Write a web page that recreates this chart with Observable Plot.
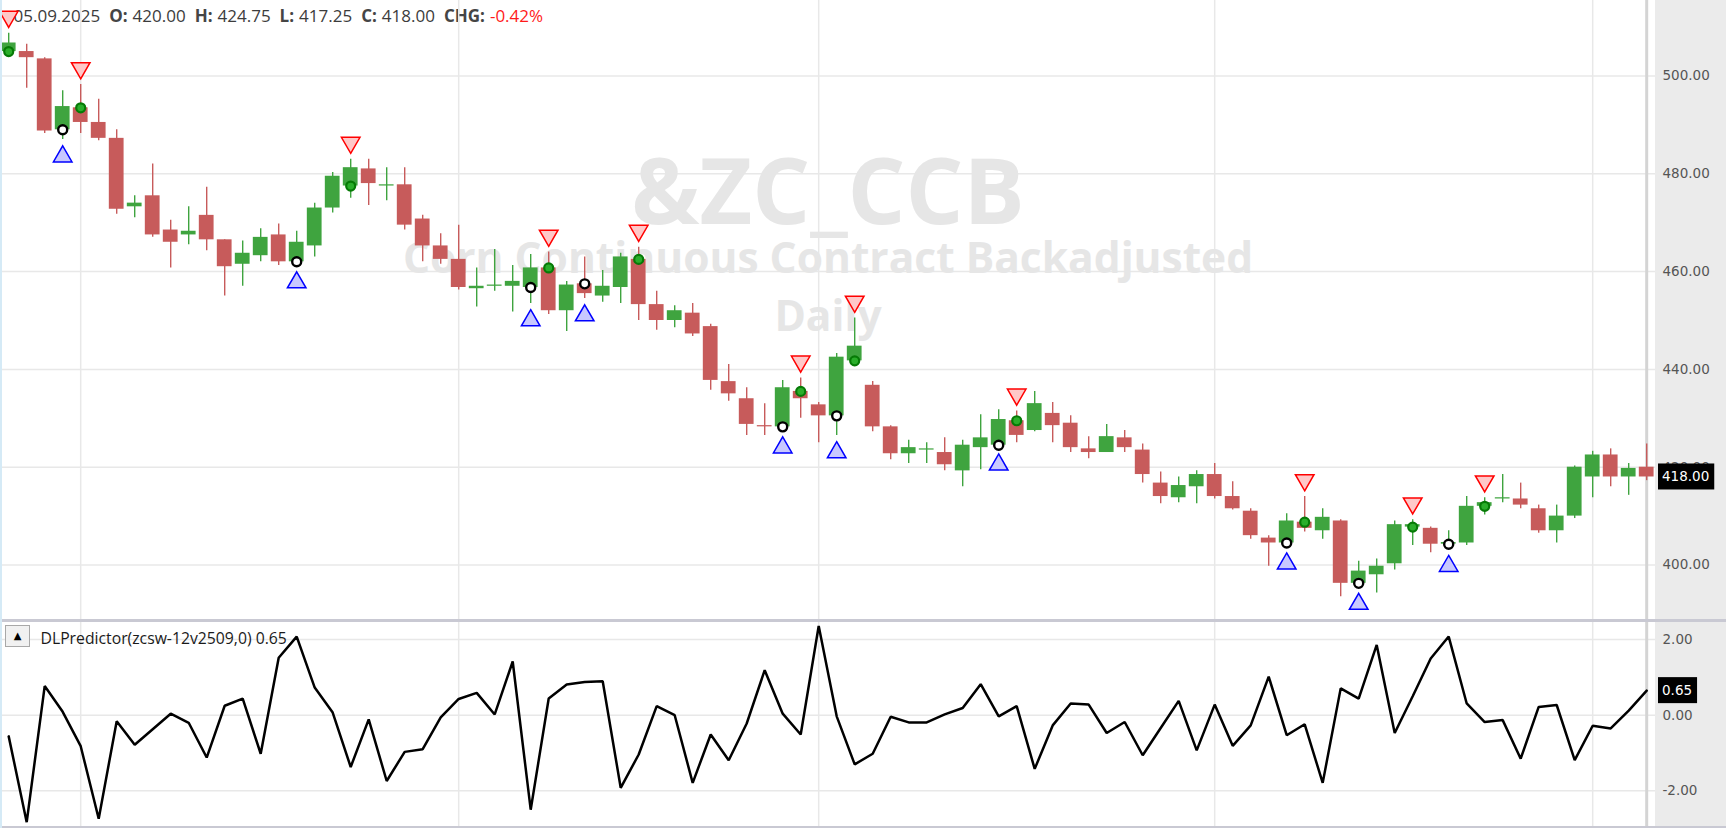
<!DOCTYPE html>
<html><head><meta charset="utf-8">
<script src="https://cdn.jsdelivr.net/npm/d3@7"></script>
<script src="https://cdn.jsdelivr.net/npm/@observablehq/plot@0.6"></script>
<style>
html,body{margin:0;padding:0;background:#fff;}
#wrap{position:relative;width:1726px;height:828px;overflow:hidden;background:#fff;}
#wrap svg{position:absolute;left:0;max-width:none;}
.sep{position:absolute;left:0;width:1726px;background:#c9c9d3;}
#leftbar{position:absolute;left:0;top:0;width:2px;height:828px;background:#d5eaf6;}
#btn{position:absolute;left:5px;top:625px;width:23px;height:20px;border:1px solid #a8a8a8;background:#f1f1f1;font:10px 'DejaVu Sans';text-align:center;line-height:20px;color:#000;}
</style></head><body><div id="wrap"></div>
<script>
// ---- data ----
const opens  = [505.0,505.0,503.5,489.0,493.5,490.5,487.25,473.25,475.5,468.5,467.5,471.5,466.5,461.5,463.25,467.5,462.0,465.25,473.0,477.5,481.0,477.5,477.75,470.75,465.25,462.5,456.5,457.0,457.0,456.75,460.75,452.0,457.5,455.0,456.75,462.5,453.25,450.0,451.5,448.75,437.5,434.0,428.5,428.25,435.5,432.75,430.5,441.75,436.75,428.25,422.75,423.5,423.0,419.25,424.0,424.5,429.5,427.5,431.0,429.0,423.75,423.0,426.0,423.5,416.75,413.75,416.0,418.5,414.0,411.0,405.5,404.5,408.75,407.0,409.0,396.25,398.0,400.25,407.75,407.5,404.25,404.5,412.0,413.5,413.5,411.5,407.0,410.0,418.0,422.5,418.0,420.0];
const highs  = [508.75,506.5,503.75,497.0,498.25,495.25,489.0,475.5,482.0,470.5,473.25,477.25,466.5,466.25,468.75,469.75,468.25,474.0,480.25,483.0,483.0,481.25,481.25,471.5,467.75,469.5,460.75,464.5,461.25,463.5,464.0,458.0,463.0,460.25,463.75,465.0,456.0,453.0,453.5,449.25,441.0,436.25,433.0,437.75,438.25,433.25,443.25,450.5,437.5,428.5,425.5,425.0,426.0,425.5,430.75,431.75,431.5,435.5,433.25,430.5,426.25,428.75,427.5,424.75,419.0,418.0,419.25,420.75,417.0,411.5,406.0,410.5,414.0,411.5,409.25,400.75,401.25,409.0,409.25,407.75,407.0,414.0,413.75,418.5,416.75,412.25,412.25,420.25,423.25,423.75,420.75,424.75];
const lows   = [504.0,497.5,488.25,487.0,488.25,486.75,471.75,471.0,467.0,460.75,465.5,464.25,455.0,457.0,462.0,461.25,461.25,463.0,472.0,475.0,473.5,474.5,468.5,462.0,461.5,456.25,452.75,456.0,451.75,453.5,451.25,447.75,454.5,453.75,453.5,450.0,448.0,448.5,446.75,435.75,433.5,426.5,426.5,427.5,430.0,425.0,426.5,441.0,427.25,421.5,420.75,420.75,419.25,416.0,419.5,424.0,425.0,427.25,425.0,423.0,421.75,423.0,423.0,416.75,412.5,412.75,412.5,413.5,411.25,405.25,399.75,403.75,406.75,405.25,393.5,395.5,394.25,399.0,404.0,402.5,403.25,404.0,410.25,412.75,411.5,406.5,404.5,409.5,413.75,416.0,414.25,417.25];
const closes = [506.75,503.75,488.75,493.75,490.5,487.25,472.75,474.0,467.5,466.0,468.25,466.5,461.0,463.75,467.0,462.0,466.0,473.0,479.5,481.25,478.0,477.75,469.5,465.25,462.5,456.75,457.0,457.25,458.0,460.75,452.0,457.25,455.5,457.0,463.0,453.25,450.0,452.0,447.25,437.75,435.0,428.75,428.25,436.25,434.0,430.5,442.5,444.75,428.25,422.75,424.0,423.75,420.5,424.5,426.0,429.75,426.5,433.0,428.5,424.0,423.0,426.25,424.0,418.5,414.0,416.25,418.5,414.0,411.5,406.0,404.5,409.0,407.5,409.75,396.25,398.75,399.75,408.25,408.25,404.25,404.6,412.0,412.75,413.75,412.25,407.0,410.0,420.0,422.5,418.0,419.75,418.0];
const predictor = [-0.56,-2.83,0.77,0.09,-0.82,-2.74,-0.16,-0.78,-0.37,0.04,-0.20,-1.12,0.25,0.44,-1.02,1.52,2.08,0.73,0.07,-1.37,-0.11,-1.74,-0.97,-0.90,-0.06,0.43,0.59,0.02,1.42,-2.50,0.44,0.81,0.88,0.90,-1.92,-1.04,0.24,0.00,-1.79,-0.51,-1.19,-0.22,1.19,0.04,-0.51,2.36,-0.03,-1.30,-1.02,-0.04,-0.19,-0.19,0.02,0.19,0.82,-0.03,0.24,-1.42,-0.27,0.31,0.28,-0.47,-0.18,-1.06,-0.34,0.38,-0.93,0.28,-0.81,-0.27,1.02,-0.53,-0.24,-1.79,0.71,0.44,1.86,-0.47,0.50,1.50,2.08,0.31,-0.18,-0.13,-1.15,0.22,0.27,-1.19,-0.28,-0.35,0.12,0.65];
const sellSignals = [0,4,19,30,35,44,47,56,72,78,82];   // red triangle + green dot
const buySignals  = [3,16,29,32,43,46,55,71,75,80];     // blue triangle + black dot
const monthStarts = [4,25,45,67,88];
const priceTicks = [400,420,440,460,480,500];
const predTicks = [-2,0,2];
const lastDate = "05.09.2025";
const watermark = ["&ZC_CCB","Corn Continuous Contract Backadjusted","Daily"];
const indicatorName = "DLPredictor(zcsw-12v2509,0)";

// ---- build ----
const candles = opens.map((o,i)=>({i, open:o, high:highs[i], low:lows[i], close:closes[i]}));
const last = candles[candles.length-1];
const prev = candles[candles.length-2];
const UP="#3fa43f", DOWN="#c75b5b";
const col = d => d.close >= d.open ? UP : DOWN;
const xDomain = [-0.4556, 91.4889];
const fmt = d => d.toFixed(2);
const GRID = "#e8e8e8";
const baseStyle = {background:"linear-gradient(to right,#ffffff 1655px,#ebebeb 1655px)", color:"#555", fontFamily:"'DejaVu Sans'", fontSize:"13.5px", maxWidth:"none", overflow:"visible"};
const downTri = {draw(ctx,size){const y=Math.sqrt(size/(Math.sqrt(3)*3)); const s=Math.sqrt(3); ctx.moveTo(0,2*y); ctx.lineTo(s*y,-y); ctx.lineTo(-s*y,-y); ctx.closePath();}};
const wm = {frameAnchor:"top", lineAnchor:"bottom", fontFamily:"Open Sans", fontWeight:"bold", fill:"#e6e6e6"};

const upper = Plot.plot({
  width:1726, height:620, marginLeft:0, marginRight:71, marginTop:0, marginBottom:0,
  style: baseStyle,
  x:{domain:xDomain, axis:null},
  y:{domain:[388.65,515.44], axis:"right", ticks:priceTicks, tickFormat:fmt, tickSize:0, tickPadding:7, label:null},
  marks:[
    Plot.ruleY(priceTicks,{stroke:GRID,strokeWidth:1.5}),
    Plot.ruleX(monthStarts,{stroke:GRID,strokeWidth:1.5}),
    Plot.text([watermark[0]],{...wm, fontSize:91, dy:223}),
    Plot.text([watermark[1]],{...wm, fontSize:42.5, dy:272}),
    Plot.text([watermark[2]],{...wm, fontSize:42.5, dy:330}),
    Plot.ruleX([last.i],{stroke:"#d4d4d4",strokeWidth:3}),
    Plot.ruleX(candles,{x:"i",y1:"low",y2:"high",stroke:col,strokeWidth:1.4}),
    Plot.rect(candles,{x1:d=>d.i-0.41,x2:d=>d.i+0.41,y1:"open",y2:"close",fill:col}),
    Plot.dot(sellSignals.map(i=>candles[i]),{x:"i",y:"open",r:4.5,fill:"#2aae2a",stroke:"#067a06",strokeWidth:2.2}),
    Plot.dot(buySignals.map(i=>candles[i]),{x:"i",y:"open",r:4.5,fill:"#ffffff",stroke:"#000000",strokeWidth:2.4}),
    Plot.dot(sellSignals.map(i=>candles[i]),{x:"i",y:"high",symbol:downTri,r:6.9,fill:"#ffc8c8",stroke:"#ff0000",strokeWidth:1.5,dy:-16.5}),
    Plot.dot(buySignals.map(i=>candles[i]),{x:"i",y:"low",symbol:"triangle",r:6.9,fill:"#c8c8ff",stroke:"#0000ff",strokeWidth:1.5,dy:17})
  ]
});

const pred = predictor.map((v,i)=>({i,v}));
const lower = Plot.plot({
  width:1726, height:208, marginLeft:0, marginRight:71, marginTop:0, marginBottom:0,
  style: baseStyle,
  x:{domain:xDomain, axis:null},
  y:{domain:[-2.997,2.505], axis:"right", ticks:predTicks, tickFormat:fmt, tickSize:0, tickPadding:7, label:null},
  marks:[
    Plot.ruleY(predTicks,{stroke:GRID,strokeWidth:1.5}),
    Plot.ruleX(monthStarts,{stroke:GRID,strokeWidth:1.5}),
    Plot.ruleX([last.i],{stroke:"#d4d4d4",strokeWidth:3}),
    Plot.line(pred,{x:"i",y:"v",stroke:"#000",strokeWidth:2.5,strokeLinejoin:"miter"}),
    Plot.text([`${indicatorName} ${fmt(predictor[predictor.length-1])}`],{frameAnchor:"top-left",lineAnchor:"bottom",dx:40,dy:23.5,fontFamily:"Open Sans",fontSize:15.75,fill:"#1a1a1a"})
  ]
});

const wrap = document.getElementById("wrap");
upper.style.top = "0px";
lower.style.top = "620px";
wrap.appendChild(upper);
wrap.appendChild(lower);

// header line (behind the marks)
const chg = (last.close - prev.close) / prev.close * 100;
const parts = [
  [lastDate,"normal","#3c3c3c",0],
  ["O:","bold","#454545",9],[fmt(last.open),"normal","#3c3c3c",5],
  ["H:","bold","#454545",9],[fmt(last.high),"normal","#3c3c3c",5],
  ["L:","bold","#454545",9],[fmt(last.low),"normal","#3c3c3c",5],
  ["C:","bold","#454545",9],[fmt(last.close),"normal","#3c3c3c",5],
  ["CHG:","bold","#454545",9],[fmt(chg)+"%","normal", chg<0?"#ff1a1a":"#1a9a1a",5]
];
const ht = d3.select(upper).insert("text","g").attr("x",13.5).attr("y",21.5).attr("text-anchor","start")
  .attr("font-family","Open Sans").attr("font-size",17);
parts.forEach(([t,w,c,dx])=>ht.append("tspan").attr("dx",dx).attr("font-weight",w).attr("fill",c).text(t));

// value boxes on the right axis
function valueBox(plot, v){
  const y = plot.scale("y").apply(v);
  const x0 = plot.scale("x").range[1] + 3;
  const g = d3.select(plot).append("g").attr("text-anchor","start");
  const t = g.append("text").attr("x",x0+4).attr("y",y).attr("dy","0.36em").attr("fill","#fff")
    .attr("font-family","DejaVu Sans").attr("font-size",13.5).text(fmt(v));
  const w = t.node().getComputedTextLength();
  g.insert("rect","text").attr("x",x0).attr("y",y-13).attr("width",w+9).attr("height",26).attr("fill","#000");
}
valueBox(upper, last.close);
valueBox(lower, predictor[predictor.length-1]);

// chrome
const mk = (cls, css) => { const d=document.createElement("div"); if(cls) d.className=cls; Object.assign(d.style, css); wrap.appendChild(d); return d; };
mk("sep",{top:"619px",height:"3px"});
mk("sep",{top:"826px",height:"2px"});
const lb = mk(null,{}); lb.id="leftbar";
const b = mk(null,{}); b.id="btn"; b.textContent="▲";
</script></body></html>
